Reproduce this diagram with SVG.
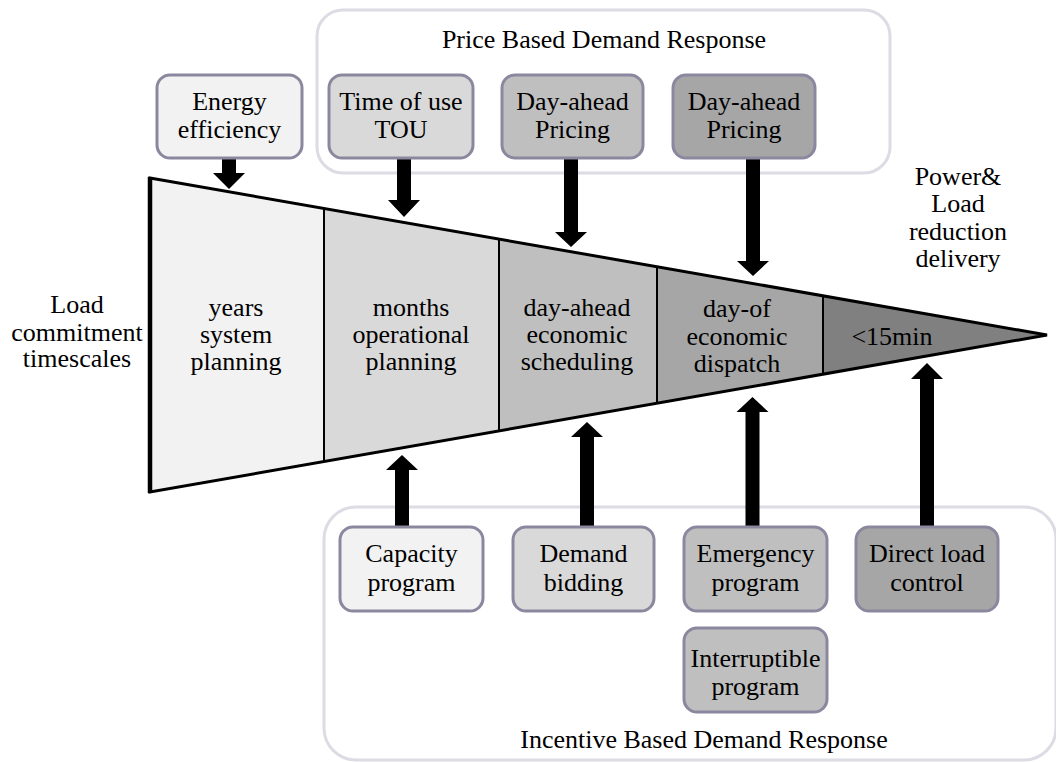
<svg xmlns="http://www.w3.org/2000/svg" width="1056" height="762" viewBox="0 0 1056 762">
<style>
text{font-family:'Liberation Serif','Times New Roman',Times,'DejaVu Serif',serif;font-size:26px;fill:#000;text-anchor:middle}
.grp{fill:#fff;stroke:#dcdce4;stroke-width:3}
.box{stroke:#8a879e;stroke-width:3}
.div{stroke:#000;stroke-width:2;fill:none}
.arr{fill:#000;stroke:none}
</style>
<rect width="1056" height="762" fill="#fff"/>
<g id="price-group">
<rect class="grp" x="317" y="10" width="573" height="163" rx="26"/>
<text x="604" y="48">Price Based Demand Response</text>
</g>
<g id="incentive-group">
<rect class="grp" x="324" y="507" width="732" height="253" rx="32"/>
<text x="704" y="748">Incentive Based Demand Response</text>
</g>
<g id="funnel">
<polygon points="150,178 324,208.5 324,461.5 150,492" fill="#f2f2f2"/>
<polygon points="324,208.5 499,239.1 499,430.9 324,461.5" fill="#d9d9d9"/>
<polygon points="499,239.1 657,266.7 657,403.3 499,430.9" fill="#bfbfbf"/>
<polygon points="657,266.7 823,295.8 823,374.2 657,403.3" fill="#a6a6a6"/>
<polygon points="823,295.8 1047,335 823,374.2" fill="#808080"/>
<line class="div" x1="324" y1="208.5" x2="324" y2="461.5" stroke-width="2.5"/>
<line class="div" x1="499" y1="239.1" x2="499" y2="430.9"/>
<line class="div" x1="657" y1="266.7" x2="657" y2="403.3"/>
<line class="div" x1="823" y1="295.8" x2="823" y2="374.2"/>
<polygon points="150,178 1047,335 150,492" fill="none" stroke="#000" stroke-width="3" stroke-linejoin="miter"/>
<line x1="150" y1="177" x2="150" y2="493" stroke="#000" stroke-width="4.5"/>
<text x="236" y="316">years</text>
<text x="236" y="343">system</text>
<text x="236" y="370">planning</text>
<text x="411" y="316">months</text>
<text x="411" y="343">operational</text>
<text x="411" y="370">planning</text>
<text x="577" y="316">day-ahead</text>
<text x="577" y="343">economic</text>
<text x="577" y="370">scheduling</text>
<text x="737" y="317">day-of</text>
<text x="737" y="345">economic</text>
<text x="737" y="372">dispatch</text>
<text x="892" y="345">&lt;15min</text>
</g>
<g id="label-left">
<text x="77" y="313">Load</text>
<text x="77" y="341">commitment</text>
<text x="77" y="367">timescales</text>
</g>
<g id="label-right">
<text x="958" y="185">Power&amp;</text>
<text x="958" y="212">Load</text>
<text x="958" y="240">reduction</text>
<text x="958" y="267">delivery</text>
</g>
<g id="connectors">
<polygon class="arr" points="222,158 236,158 236,173 245,173 229,189 213,173 222,173"/>
<polygon class="arr" points="397,158 411,158 411,200 420,200 404,217 388,200 397,200"/>
<polygon class="arr" points="564,158 578,158 578,232 587,232 571,247 555,232 564,232"/>
<polygon class="arr" points="746,158 760,158 760,261 769,261 753,276 737,261 746,261"/>
<polygon class="arr" points="395,527 409,527 409,470 418,470 402,455 386,470 395,470"/>
<polygon class="arr" points="580,527 594,527 594,437 603,437 587,422 571,437 580,437"/>
<polygon class="arr" points="745.5,527 759.5,527 759.5,412 768.5,412 752.5,397 736.5,412 745.5,412"/>
<polygon class="arr" points="920,527 934,527 934,379 943,379 927,363 911,379 920,379"/>
</g>
<g id="energy-efficiency">
<rect class="box" x="157" y="75" width="145" height="83" rx="13" fill="#f2f2f2" stroke="#7f7f7f"/>
<text x="229.5" y="110">Energy</text>
<text x="229.5" y="138">efficiency</text>
</g>
<g id="time-of-use">
<rect class="box" x="329" y="75" width="144" height="83" rx="13" fill="#d9d9d9"/>
<text x="401" y="110">Time of use</text>
<text x="401" y="138">TOU</text>
</g>
<g id="day-ahead-pricing-1">
<rect class="box" x="502" y="75" width="141" height="83" rx="13" fill="#bfbfbf"/>
<text x="572.5" y="110">Day-ahead</text>
<text x="572.5" y="138">Pricing</text>
</g>
<g id="day-ahead-pricing-2">
<rect class="box" x="673" y="75" width="142" height="83" rx="13" fill="#a6a6a6"/>
<text x="744" y="110">Day-ahead</text>
<text x="744" y="138">Pricing</text>
</g>
<g id="capacity-program">
<rect class="box" x="340" y="527" width="143" height="84" rx="13" fill="#f2f2f2"/>
<text x="411.5" y="562">Capacity</text>
<text x="411.5" y="591">program</text>
</g>
<g id="demand-bidding">
<rect class="box" x="513" y="527" width="141" height="84" rx="13" fill="#d9d9d9"/>
<text x="583.5" y="562">Demand</text>
<text x="583.5" y="591">bidding</text>
</g>
<g id="emergency-program">
<rect class="box" x="684" y="527" width="143" height="84" rx="13" fill="#bfbfbf"/>
<text x="755.5" y="562">Emergency</text>
<text x="755.5" y="591">program</text>
</g>
<g id="direct-load-control">
<rect class="box" x="856" y="527" width="142" height="84" rx="13" fill="#a6a6a6"/>
<text x="927" y="562">Direct load</text>
<text x="927" y="591">control</text>
</g>
<g id="interruptible-program">
<rect class="box" x="684" y="628" width="143" height="84" rx="13" fill="#bfbfbf"/>
<text x="755.5" y="667">Interruptible</text>
<text x="755.5" y="695">program</text>
</g>
</svg>
